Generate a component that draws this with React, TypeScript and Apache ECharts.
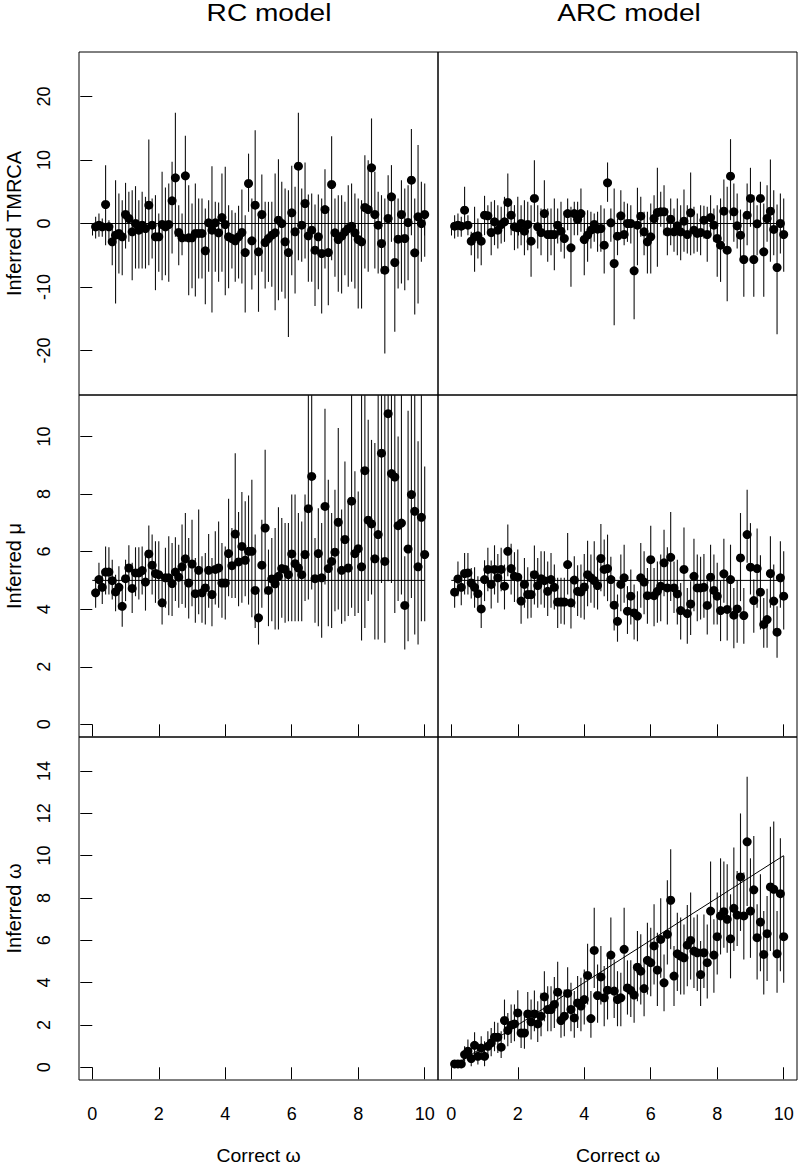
import React, { useEffect, useRef } from 'react';
import * as echarts from 'echarts';

const FONT = '"Liberation Sans", Arial, Helvetica, sans-serif';

// Correct omega (x values)
const correctOmega = [
  0.1, 0.2, 0.3, 0.4, 0.5, 0.6, 0.7, 0.8, 0.9, 1.0,
  1.1, 1.2, 1.3, 1.4, 1.5, 1.6, 1.7, 1.8, 1.9, 2.0,
  2.1, 2.2, 2.3, 2.4, 2.5, 2.6, 2.7, 2.8, 2.9, 3.0,
  3.1, 3.2, 3.3, 3.4, 3.5, 3.6, 3.7, 3.8, 3.9, 4.0,
  4.1, 4.2, 4.3, 4.4, 4.5, 4.6, 4.7, 4.8, 4.9, 5.0,
  5.1, 5.2, 5.3, 5.4, 5.5, 5.6, 5.7, 5.8, 5.9, 6.0,
  6.1, 6.2, 6.3, 6.4, 6.5, 6.6, 6.7, 6.8, 6.9, 7.0,
  7.1, 7.2, 7.3, 7.4, 7.5, 7.6, 7.7, 7.8, 7.9, 8.0,
  8.1, 8.2, 8.3, 8.4, 8.5, 8.6, 8.7, 8.8, 8.9, 9.0,
  9.1, 9.2, 9.3, 9.4, 9.5, 9.6, 9.7, 9.8, 9.9, 10.0,
];

// RC model – inferred TMRCA
const rcTmrcaEst = [
  -0.52, -0.26, -0.52, 2.99, -0.52, -2.89, -1.84, -1.57, -2.1, 1.42,
  0.79, -1.31, 0, -1.05, -0.26, -0.79, 2.89, -0.26, -2.1, -2.1,
  -0.16, -0.52, -0.16, 3.57, 7.19, -1.42, -2.26, 7.5, -2.26, -2.26,
  -1.57, -1.57, -1.57, -4.3, 0.1, -1.05, 0.1, -1.47, 0.94, -0.16,
  -2.1, -2.36, -2.73, -2.1, -1.42, -4.57, 6.3, -2.73, 2.89, -4.46,
  1.42, -2.99, -2.36, -1.84, -1.47, 0.52, 0, -2.89, -4.57, 1.68,
  -1.31, 9.03, -0.26, 3.15, -1.94, -1.05, -4.2, -2.1, -4.72, 2.2,
  -4.57, 6.14, -1.47, -2.52, -1.99, -1.31, -0.79, -0.42, -1.47, -2.52,
  -2.89, 2.52, 2.2, 8.77, 1.42, -0.26, -3.15, -7.35, 0.79, 4.2,
  -6.14, -2.47, 1.42, -2.36, 0.16, 6.82, -4.62, 1.05, 0, 1.42,
];
const rcTmrcaHi = [
  1.05, 1.57, 0.79, 9.19, 0.52, -0.79, 6.82, 4.72, 3.67, 6.4,
  4.99, 5.25, 5.88, 3.67, 4.99, 4.2, 13.23, 3.94, 4.46, 1.57,
  8.14, 5.67, 6.3, 9.71, 17.43, 2.89, 1.57, 13.8, 6.04, 3.15,
  6.3, 3.94, 3.94, 2.36, 3.67, 9.03, 3.41, 3.31, 7.87, 8.92,
  2.89, 2.1, 1.68, 2.78, 5.35, 1.31, 11.0, 3.94, 14.7, 1.31,
  7.72, 3.41, 3.41, 3.41, 7.87, 10.13, 6.56, 5.51, 5.25, 9.08,
  5.77, 17.43, 5.51, 9.61, 4.57, 4.72, 2.99, 4.57, 3.94, 8.56,
  2.52, 13.75, 3.94, 4.46, 4.46, 3.41, 6.04, 6.3, 4.72, 3.94,
  3.67, 10.76, 9.97, 16.54, 8.14, 4.99, 4.46, 3.94, 7.61, 9.19,
  4.46, 3.94, 6.82, 5.51, 6.04, 14.86, 3.94, 12.34, 6.56, 6.3,
];
const rcTmrcaLo = [
  -2.36, -2.1, -2.1, -3.41, -2.62, -6.56, -12.6, -7.87, -8.14, -3.94,
  -2.89, -8.92, -7.09, -7.09, -7.09, -7.09, -6.56, -5.51, -10.5, -7.61,
  -8.92, -8.14, -9.19, -4.72, -2.1, -6.56, -4.99, -2.89, -11.3, -10.2,
  -11.5, -8.66, -8.66, -12.7, -7.61, -14.0, -7.61, -9.19, -7.61, -11.3,
  -10.2, -7.09, -9.19, -8.66, -9.45, -14.0, 1.84, -10.4, -8.14, -13.9,
  -7.61, -10.24, -9.19, -9.97, -13.65, -12.07, -10.76, -11.81, -17.85, -8.14,
  -11.02, -5.77, -6.04, -5.51, -9.19, -9.19, -12.97, -10.34, -14.17, -7.09,
  -12.86, -5.77, -8.4, -10.76, -11.02, -8.14, -9.97, -9.19, -10.24, -13.39,
  -13.39, -7.09, -7.61, 2.1, -7.09, -7.87, -7.87, -20.47, -7.09, -2.89,
  -17.06, -10.24, -9.45, -10.5, -8.92, -1.84, -14.33, -12.6, -6.04, -5.25,
];

// ARC model – inferred TMRCA
const arcTmrcaEst = [
  -0.42, -0.26, -0.42, 2.1, -0.26, -2.78, -2.1, -1.94, -2.78, 1.31,
  1.21, -1.42, 0.26, -1.05, -0.16, 0.26, 3.31, 1.31, -0.52, -0.68,
  0, -1.21, -0.16, -2.78, 3.94, -0.52, -1.42, 1.57, -1.73, -1.73,
  -1.73, -0.26, -1.21, -2.36, 1.57, -3.83, 1.57, 0.68, 1.57, -2.52,
  -1.84, -1.05, -0.16, -0.89, -0.79, -3.41, 6.4, 0.1, -6.3, -1.99,
  1.21, -1.73, 0, 0, -7.45, -0.26, 1.15, -1.31, -2.89, -2.1,
  0.79, 1.73, 1.84, 1.84, -1.31, 0.68, -1.31, -0.37, -1.31, 0.37,
  -1.73, 1.68, -1.05, -1.57, -1.42, 0.52, -1.73, 0.94, -0.26, -2.36,
  -3.41, 1.94, -4.2, 7.45, 1.84, -0.37, -1.84, -5.67, 1.31, 3.94,
  -5.67, -0.05, 3.94, -4.46, 0.79, 1.94, -0.94, -6.93, 0, -1.73,
];
const arcTmrcaHi = [
  1.31, 1.57, 1.05, 5.77, 1.31, -1.31, 2.62, 0.79, 0, 4.36,
  2.89, 3.41, 3.67, 2.89, 2.62, 4.2, 7.87, 3.15, 2.89, 4.2,
  2.89, 3.67, 3.41, 2.89, 9.97, 2.89, 2.36, 6.82, 2.36, 2.36,
  3.94, 2.36, 3.41, 1.84, 3.94, 2.62, 3.41, 3.41, 5.51, 1.31,
  2.1, 1.84, 1.57, 1.84, 2.89, 2.36, 9.61, 2.36, 5.51, 0.79,
  5.25, 3.41, 3.15, 2.89, -0.52, 5.62, 4.2, 1.84, 1.84, 3.15,
  4.46, 8.77, 4.99, 6.04, 2.36, 3.94, 2.36, 3.94, 2.89, 5.35,
  2.89, 8.03, 2.62, 1.57, 2.89, 2.78, 2.62, 4.46, 2.36, 2.89,
  3.94, 6.93, 5.77, 13.28, 6.3, 4.72, 2.2, 1.05, 6.3, 8.77,
  4.46, 2.89, 6.56, 3.15, 6.04, 10.08, 5.25, 2.99, 4.72, 3.94,
];
const arcTmrcaLo = [
  -2.36, -2.1, -2.1, -0.79, -1.84, -4.99, -7.61, -5.51, -6.56, -1.84,
  -1.31, -4.99, -3.41, -3.94, -3.15, -2.89, 0.26, -1.84, -4.2, -3.94,
  -3.41, -4.99, -4.2, -8.4, 0.26, -3.94, -4.99, -1.84, -6.04, -4.99,
  -7.35, -3.15, -4.46, -5.51, -1.05, -9.97, -1.84, -1.84, -1.31, -8.14,
  -6.04, -3.94, -2.89, -4.46, -4.46, -7.87, 3.41, -2.89, -16.0, -4.99,
  -2.36, -3.41, -2.89, -3.15, -15.07, -6.56, -2.1, -4.99, -7.87, -7.87,
  -1.84, -6.82, -0.52, -1.84, -4.99, -3.41, -4.46, -4.99, -5.77, -4.46,
  -4.72, -4.99, -4.72, -4.46, -4.99, -2.36, -6.04, -1.84, -2.89, -8.4,
  -9.19, -2.89, -12.23, 0.52, -2.89, -3.94, -6.04, -11.55, -3.41, -0.52,
  -11.55, -4.99, 0, -11.55, -2.89, -6.04, -4.99, -17.43, -4.72, -7.61,
];

// RC model – inferred mu
const rcMuEst = [
  4.57, 5.03, 4.76, 5.29, 5.29, 4.99, 4.6, 4.76, 4.1, 5.06,
  5.43, 4.72, 5.26, 5.26, 5.34, 4.94, 5.92, 5.53, 5.24, 5.2,
  4.22, 5.09, 5.09, 4.89, 5.29, 5.11, 5.47, 5.75, 4.91, 5.57,
  4.54, 5.35, 4.57, 4.74, 5.35, 4.51, 5.38, 5.43, 4.91, 4.91,
  5.93, 5.51, 6.61, 5.64, 6.18, 5.7, 6.01, 6.01, 4.65, 3.7,
  5.53, 6.82, 4.65, 5.05, 4.88, 5.14, 5.41, 5.38, 5.2, 5.92,
  5.58, 5.43, 5.2, 5.9, 7.49, 8.61, 5.06, 5.93, 5.09, 7.57,
  5.41, 5.66, 5.98, 7.02, 5.35, 6.42, 5.43, 7.75, 5.93, 6.1,
  5.47, 8.81, 7.09, 6.96, 5.75, 6.59, 9.42, 5.66, 10.79, 8.71,
  8.59, 6.9, 6.99, 4.13, 6.09, 7.98, 7.4, 5.47, 7.19, 5.9,
];
const rcMuHi = [
  4.97, 5.61, 5.32, 6.18, 6.15, 5.72, 5.2, 5.49, 4.8, 5.72,
  6.22, 5.61, 6.15, 6.15, 6.18, 5.9, 6.91, 6.59, 6.36, 6.36,
  5.03, 6.13, 6.53, 6.3, 6.5, 6.24, 6.94, 7.34, 6.47, 7.11,
  5.78, 7.46, 5.84, 5.95, 6.61, 5.78, 6.71, 7.05, 6.3, 6.18,
  7.84, 6.82, 9.42, 7.38, 8.07, 7.75, 7.95, 8.5, 6.59, 4.62,
  7.11, 9.54, 6.07, 6.47, 6.82, 7.54, 7.17, 6.99, 6.99, 7.98,
  7.98, 7.34, 7.05, 7.98, 12.5, 12.5, 6.47, 7.51, 6.99, 10.96,
  8.5, 7.34, 8.15, 10.29, 7.46, 9.13, 7.69, 12.3, 8.79, 8.09,
  12.8, 13.0, 10.58, 9.88, 9.77, 12.4, 13.5, 12.2, 14.0, 12.6,
  12.9, 10.0, 12.2, 5.84, 10.89, 12.5, 12.1, 9.83, 12.3, 8.96,
];
const rcMuLo = [
  4.05, 4.51, 4.18, 4.51, 4.51, 4.34, 3.93, 3.99, 3.39, 4.28,
  4.68, 3.87, 4.45, 4.34, 4.51, 3.95, 5.03, 4.51, 4.22, 4.34,
  3.47, 4.05, 3.79, 3.76, 4.28, 4.05, 4.18, 4.05, 3.68, 4.1,
  3.53, 3.82, 3.53, 3.47, 4.05, 3.41, 4.16, 4.05, 3.7, 3.64,
  4.45, 4.39, 4.39, 4.1, 4.22, 4.45, 4.16, 3.72, 3.35, 2.77,
  4.05, 4.51, 3.41, 3.58, 3.29, 3.29, 3.7, 3.53, 3.58, 3.58,
  3.58, 3.58, 3.58, 4.28, 4.34, 4.68, 3.53, 3.41, 3.01, 4.86,
  3.41, 3.35, 3.93, 3.99, 3.49, 3.58, 3.76, 4.05, 3.76, 3.87,
  2.91, 3.35, 4.28, 4.51, 2.95, 2.95, 4.91, 2.83, 4.97, 4.91,
  3.87, 4.28, 4.51, 2.6, 2.89, 4.39, 3.12, 2.77, 3.58, 3.58,
];

// ARC model – inferred mu
const arcMuEst = [
  4.59, 5.05, 4.76, 5.24, 5.26, 4.91, 4.76, 4.54, 4.01, 5.03,
  5.38, 4.86, 5.38, 5.09, 5.38, 4.8, 6.01, 5.41, 5.14, 5.11,
  4.28, 4.86, 4.51, 4.51, 5.2, 4.82, 5.06, 4.99, 4.62, 5.03,
  4.76, 4.25, 4.25, 4.25, 5.55, 4.22, 5.01, 4.62, 4.6, 4.77,
  5.2, 5.09, 4.99, 4.82, 5.76, 5.38, 5.41, 5.03, 4.14, 3.58,
  4.86, 5.09, 3.93, 4.45, 3.87, 3.76, 5.09, 4.94, 4.47, 5.72,
  4.47, 4.62, 4.8, 5.61, 4.74, 5.8, 4.74, 4.53, 3.95, 5.38,
  3.85, 4.18, 5.14, 4.74, 4.74, 4.76, 4.13, 5.11, 4.65, 4.45,
  3.95, 5.23, 3.99, 5.03, 3.79, 4.01, 5.78, 3.78, 6.59, 5.46,
  4.3, 5.41, 4.59, 3.47, 3.64, 5.24, 4.28, 3.2, 5.09, 4.45,
];
const arcMuHi = [
  5.03, 5.66, 5.32, 5.95, 5.95, 5.43, 5.46, 5.14, 4.62, 5.7,
  6.13, 5.69, 6.22, 5.92, 6.13, 5.55, 6.94, 6.27, 5.98, 6.07,
  5.2, 5.78, 5.46, 5.32, 6.21, 5.78, 6.01, 6.01, 5.66, 5.95,
  5.55, 5.09, 5.09, 5.09, 6.65, 5.03, 5.84, 5.53, 5.55, 5.92,
  6.38, 5.9, 6.36, 5.78, 6.96, 6.42, 6.59, 5.82, 5.11, 4.51,
  5.9, 6.24, 4.8, 5.38, 4.86, 4.62, 6.3, 6.01, 5.43, 6.9,
  5.43, 5.66, 5.9, 6.76, 6.15, 7.38, 5.66, 5.72, 4.91, 6.84,
  4.74, 4.97, 6.45, 5.9, 5.82, 5.92, 4.97, 6.24, 5.9, 5.61,
  4.99, 6.45, 5.03, 6.24, 4.74, 4.99, 7.34, 4.74, 8.15, 6.99,
  5.03, 6.8, 5.87, 4.39, 4.71, 6.53, 5.55, 4.1, 6.36, 6.01,
];
const arcMuLo = [
  4.05, 4.45, 4.14, 4.51, 4.51, 4.37, 4.05, 3.95, 3.35, 4.28,
  4.62, 4.02, 4.51, 4.22, 4.62, 3.99, 5.14, 4.51, 4.25, 4.34,
  3.49, 4.05, 3.68, 3.7, 4.16, 4.05, 4.16, 4.05, 3.76, 4.05,
  3.99, 3.35, 3.49, 3.47, 4.51, 3.33, 4.05, 3.76, 3.7, 3.64,
  4.1, 4.22, 4.05, 3.99, 4.62, 4.45, 4.28, 4.16, 3.26, 2.87,
  3.93, 4.22, 3.14, 3.47, 2.95, 2.89, 4.05, 3.82, 3.49, 4.51,
  3.41, 3.53, 3.58, 4.45, 3.47, 4.28, 3.87, 3.47, 2.95, 3.82,
  2.8, 3.1, 3.93, 3.58, 3.64, 3.7, 3.12, 4.05, 3.47, 3.47,
  2.89, 4.22, 2.91, 3.93, 2.64, 2.83, 4.28, 2.8, 5.61, 4.51,
  3.18, 4.05, 3.29, 2.66, 2.66, 4.05, 3.21, 2.31, 4.05, 3.29,
];

// ARC model – inferred omega
const arcOmegaEst = [
  0.16, 0.16, 0.16, 0.6, 0.76, 0.41, 1.04, 0.52, 0.91, 0.52,
  0.99, 1.15, 1.42, 1.42, 0.95, 2.21, 1.74, 1.99, 2.05, 2.57,
  1.62, 1.62, 2.52, 2.15, 2.52, 2.05, 2.41, 3.33, 2.73, 2.73,
  2.97, 3.55, 2.21, 2.41, 3.49, 2.73, 2.33, 3.04, 2.89, 3.2,
  4.34, 2.3, 5.52, 3.39, 4.27, 3.28, 3.64, 5.3, 3.6, 3.2,
  3.28, 5.57, 3.75, 3.63, 3.41, 4.73, 4.54, 3.72, 5.05, 4.94,
  5.73, 4.59, 6.04, 3.99, 6.28, 7.89, 4.31, 5.36, 5.25, 5.17,
  5.77, 5.99, 5.49, 5.41, 4.38, 5.41, 4.94, 7.38, 5.3, 6.17,
  7.15, 7.35, 6.99, 6.07, 7.51, 7.19, 8.99, 7.15, 10.65, 7.38,
  8.38, 6.12, 6.86, 5.33, 6.31, 8.52, 8.41, 5.36, 8.2, 6.17,
];
const arcOmegaHi = [
  0.25, 0.25, 0.25, 0.99, 1.31, 0.91, 1.66, 1.07, 1.47, 1.23,
  1.7, 1.86, 2.15, 2.1, 1.7, 3.2, 2.57, 2.97, 2.97, 3.64,
  2.49, 2.49, 3.56, 3.2, 3.63, 3.12, 3.52, 4.54, 3.83, 3.83,
  4.26, 4.98, 3.44, 3.68, 4.73, 3.99, 3.6, 4.31, 4.23, 4.62,
  5.84, 3.6, 7.54, 4.86, 5.73, 4.78, 5.17, 7.07, 5.09, 4.54,
  4.46, 7.54, 5.05, 5.05, 4.86, 6.44, 6.28, 5.05, 6.83, 6.59,
  7.7, 6.36, 7.98, 5.33, 8.83, 10.3, 5.73, 7.3, 7.07, 6.75,
  7.67, 8.25, 7.07, 7.22, 5.96, 7.22, 6.75, 9.72, 6.99, 8.25,
  9.87, 9.72, 9.59, 8.17, 10.38, 9.27, 11.99, 9.2, 13.72, 9.87,
  10.93, 7.7, 9.12, 7.38, 8.09, 11.36, 11.61, 7.38, 10.82, 9.98,
];
const arcOmegaLo = [
  0.05, 0.05, 0.05, 0.28, 0.36, 0.05, 0.36, 0.13, 0.36, 0.05,
  0.44, 0.52, 0.76, 0.68, 0.44, 1.31, 0.99, 1.15, 1.23, 1.55,
  0.91, 0.88, 1.62, 1.31, 1.7, 1.2, 1.47, 2.18, 1.7, 1.7,
  1.86, 2.18, 1.39, 1.47, 2.33, 1.7, 1.39, 1.86, 1.7, 2.02,
  2.97, 1.39, 3.75, 2.1, 2.97, 1.94, 2.26, 3.75, 2.33, 1.94,
  1.94, 3.6, 2.49, 2.37, 2.1, 3.12, 2.97, 2.41, 3.44, 3.36,
  3.91, 2.89, 4.23, 2.65, 4.86, 5.57, 2.89, 3.6, 3.44, 3.44,
  3.83, 4.15, 3.75, 3.6, 2.89, 3.75, 3.25, 5.33, 3.52, 4.38,
  5.33, 5.65, 5.41, 4.2, 5.49, 5.73, 6.44, 5.09, 7.62, 5.17,
  6.12, 4.15, 4.54, 3.44, 4.07, 5.49, 5.41, 3.52, 4.54, 3.99,
];

// Reference lines (true values)
const refX = [0, 10];
const refTmrca = [0, 0];
const refMu = [5, 5];
const refOmega = [0, 10];

// Tick values
const xTicks = [0, 2, 4, 6, 8, 10];
const tmrcaTicks = [-20, -10, 0, 10, 20];
const muTicks = [0, 2, 4, 6, 8, 10];
const omegaTicks = [0, 2, 4, 6, 8, 10, 12, 14];

const colTitles = ['RC model', 'ARC model'];
const rowTitles = ['Inferred TMRCA', 'Inferred \u03bc', 'Inferred \u03c9'];
const xTitle = 'Correct \u03c9';

const GRID_LEFT = [79, 438];
const GRID_TOP = [52, 395, 737];
const GRID_W = 359;
const GRID_H = [343, 342, 343];

function buildOption() {
  const grids: any[] = [];
  const xAxes: any[] = [];
  const yAxes: any[] = [];
  const series: any[] = [];
  const yRanges = [
    { min: -27, max: 27, ticks: tmrcaTicks },
    { min: -0.44, max: 11.44, ticks: muTicks },
    { min: -0.6, max: 15.6, ticks: omegaTicks },
  ];
  for (let r = 0; r < 3; r++) {
    for (let c = 0; c < 2; c++) {
      const gi = r * 2 + c;
      grids.push({
        left: GRID_LEFT[c], top: GRID_TOP[r], width: GRID_W, height: GRID_H[r],
        show: true, borderColor: '#000', borderWidth: 1, backgroundColor: 'transparent',
        containLabel: false,
      });
      xAxes.push({
        type: 'value', gridIndex: gi, min: -0.4, max: 10.4,
        splitLine: { show: false }, axisLine: { show: false },
        axisTick: { show: true, inside: false, length: 12, customValues: xTicks, lineStyle: { color: '#000', width: 1 } },
        axisLabel: { show: r === 2, customValues: xTicks, margin: 25, fontSize: 18, color: '#000', fontFamily: FONT },
      });
      const yr = yRanges[r];
      yAxes.push({
        type: 'value', gridIndex: gi, min: yr.min, max: yr.max,
        splitLine: { show: false }, axisLine: { show: false },
        axisTick: { show: c === 0, inside: false, length: 12, customValues: yr.ticks, lineStyle: { color: '#000', width: 1 } },
        axisLabel: { show: c === 0, customValues: yr.ticks, rotate: 90, margin: 26, fontSize: 18, color: '#000', fontFamily: FONT },
      });
    }
  }

  const panels = [
    { gi: 0, est: rcTmrcaEst, lo: rcTmrcaLo, hi: rcTmrcaHi, ref: refTmrca },
    { gi: 1, est: arcTmrcaEst, lo: arcTmrcaLo, hi: arcTmrcaHi, ref: refTmrca },
    { gi: 2, est: rcMuEst, lo: rcMuLo, hi: rcMuHi, ref: refMu },
    { gi: 3, est: arcMuEst, lo: arcMuLo, hi: arcMuHi, ref: refMu },
    { gi: 5, est: arcOmegaEst, lo: arcOmegaLo, hi: arcOmegaHi, ref: refOmega },
  ];

  panels.forEach((p) => {
    series.push({
      type: 'custom', xAxisIndex: p.gi, yAxisIndex: p.gi, clip: true, silent: true,
      data: correctOmega.map((x, k) => [x, p.lo[k], p.hi[k]]),
      renderItem: (params: any, api: any) => {
        const x = api.value(0);
        const a = api.coord([x, api.value(1)]);
        const b = api.coord([x, api.value(2)]);
        return {
          type: 'line',
          shape: { x1: a[0], y1: a[1], x2: b[0], y2: b[1] },
          style: { stroke: '#111', lineWidth: 1.1 },
        };
      },
      z: 2,
    });
    series.push({
      type: 'line', xAxisIndex: p.gi, yAxisIndex: p.gi, silent: true, symbol: 'none',
      data: refX.map((x, k) => [x, p.ref[k]]),
      lineStyle: { color: '#000', width: 1 }, z: 3,
    });
    series.push({
      type: 'scatter', xAxisIndex: p.gi, yAxisIndex: p.gi, silent: true,
      symbol: 'circle', symbolSize: 9,
      data: correctOmega.map((x, k) => [x, p.est[k]]),
      itemStyle: { color: '#000', opacity: 1 }, z: 4,
    });
  });

  const graphic: any[] = [];
  const colCenters = [269, 629];
  colTitles.forEach((t, i) => {
    graphic.push({
      type: 'text', x: colCenters[i], y: 13, scaleX: 1.17,
      style: { text: t, fontSize: 24, fontFamily: FONT, fill: '#000', align: 'center', verticalAlign: 'middle' },
    });
  });
  const xTitleCenters = [258.5, 618];
  xTitleCenters.forEach((cx) => {
    graphic.push({
      type: 'text', x: cx, y: 1156, scaleX: 1.08,
      style: { text: xTitle, fontSize: 18, fontFamily: FONT, fill: '#000', align: 'center', verticalAlign: 'middle' },
    });
  });
  const rowCenters = [223.5, 566, 908.5];
  rowTitles.forEach((t, i) => {
    graphic.push({
      type: 'text', x: 14, y: rowCenters[i], rotation: Math.PI / 2,
      style: { text: t, fontSize: 20, fontFamily: FONT, fill: '#000', align: 'center', verticalAlign: 'middle' },
    });
  });

  return {
    animation: false,
    backgroundColor: '#fff',
    grid: grids,
    xAxis: xAxes,
    yAxis: yAxes,
    series,
    graphic,
  };
}

export default function App() {
  const ref = useRef<HTMLDivElement>(null);
  useEffect(() => {
    const chart = echarts.init(ref.current as HTMLDivElement, null, { renderer: 'svg' });
    chart.setOption(buildOption() as any);
    return () => chart.dispose();
  }, []);
  return (
    <div
      ref={ref}
      style={{ position: 'absolute', left: 0, top: 0, width: 799, height: 1170, background: '#fff' }}
    />
  );
}
